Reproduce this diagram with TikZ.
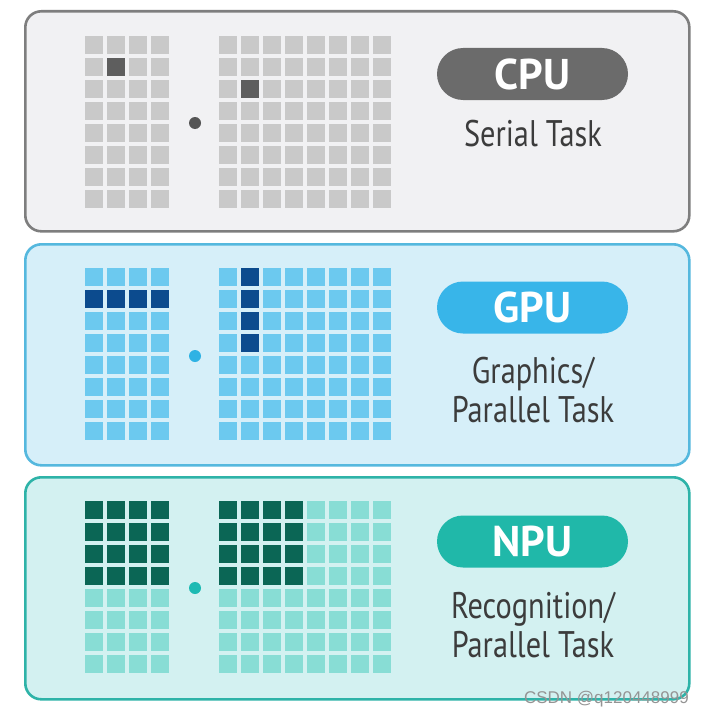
\documentclass[tikz,border=0pt]{standalone}
\usepackage{fontspec}
\setmainfont{PT Sans}[FakeStretch=0.82]
\newfontfamily\chipfont{PT Sans}
\newfontfamily\markfont{Liberation Sans}
\usetikzlibrary{positioning}

\definecolor{txtgrey}{HTML}{3C3C3C}
\definecolor{cpufill}{HTML}{F1F1F3}
\definecolor{cpuline}{HTML}{7E7E7E}
\definecolor{cpucell}{HTML}{C9C9C9}
\definecolor{cpudark}{HTML}{5E5E5E}
\definecolor{cpupill}{HTML}{6B6B6B}
\definecolor{cpudot}{HTML}{555555}
\definecolor{gpufill}{HTML}{D6EFF9}
\definecolor{gpuline}{HTML}{55B8DE}
\definecolor{gpucell}{HTML}{6CC9EF}
\definecolor{gpudark}{HTML}{0C4B8E}
\definecolor{gpupill}{HTML}{38B5E9}
\definecolor{gpudot}{HTML}{2FB2E4}
\definecolor{npufill}{HTML}{D3F1F1}
\definecolor{npuline}{HTML}{2EB3A8}
\definecolor{npucell}{HTML}{88DDD5}
\definecolor{npudark}{HTML}{0B6655}
\definecolor{npupill}{HTML}{20B8A9}
\definecolor{npudot}{HTML}{1DBAB3}

\begin{document}
\begin{tikzpicture}[
    x=1pt, y=-1pt,
    panel/.style={draw, line width=2.6pt, rounded corners=16pt,
        minimum width=664pt, minimum height=220pt,
        anchor=north west, inner sep=0pt},
    pill/.style={rounded corners=26pt, minimum width=191pt,
        minimum height=52pt, inner sep=0pt, text=white,
        font=\chipfont\fontsize{43}{43}\selectfont\bfseries},
    task/.style={text=txtgrey, anchor=base, inner sep=0pt,
        font=\fontsize{37}{39}\selectfont, align=center},
    dotmark/.style={circle, minimum size=12pt, inner sep=0pt},
    wmark/.style={text=black!42, inner sep=0pt,
        font=\markfont\fontsize{17}{17}\selectfont},
]
\useasboundingbox[fill=white] (0,0) rectangle (704,717);

% ============================ panels ====================================
\node[panel, fill=cpufill, draw=cpuline] (cpu) at (24,10) {};
\node[panel, fill=gpufill, draw=gpuline, minimum height=221pt] (gpu) at (24,243) {};
\node[panel, fill=npufill, draw=npuline, minimum height=222pt] (npu) at (24,476) {};

% ============================ CPU grids =================================
\foreach \r in {0,...,7} {
  \foreach \c in {0,...,3}
    \fill[cpucell] ({85+22*\c},{36+22*\r}) rectangle ++(18,18);
  \foreach \c in {0,...,7}
    \fill[cpucell] ({219+22*\c},{36+22*\r}) rectangle ++(18,18);
}
\fill[cpudark] (107,58) rectangle ++(18,18);
\fill[cpudark] (241,80) rectangle ++(18,18);
\node[dotmark, fill=cpudot] (cpudot) at (195,123) {};

% ============================ GPU grids =================================
\foreach \r in {0,...,7} {
  \foreach \c in {0,...,3}
    \fill[gpucell] ({85+22*\c},{268+22*\r}) rectangle ++(18,18);
  \foreach \c in {0,...,7}
    \fill[gpucell] ({219+22*\c},{268+22*\r}) rectangle ++(18,18);
}
\foreach \c in {0,...,3}
  \fill[gpudark] ({85+22*\c},290) rectangle ++(18,18);
\foreach \r in {0,...,3}
  \fill[gpudark] (241,{268+22*\r}) rectangle ++(18,18);
\node[dotmark, fill=gpudot] (gpudot) at (195,356) {};

% ============================ NPU grids =================================
\foreach \r in {0,...,7} {
  \foreach \c in {0,...,3}
    \fill[npucell] ({85+22*\c},{501+22*\r}) rectangle ++(18,18);
  \foreach \c in {0,...,7}
    \fill[npucell] ({219+22*\c},{501+22*\r}) rectangle ++(18,18);
}
\foreach \r in {0,...,3}
  \foreach \c in {0,...,3} {
    \fill[npudark] ({85+22*\c},{501+22*\r}) rectangle ++(18,18);
    \fill[npudark] ({219+22*\c},{501+22*\r}) rectangle ++(18,18);
  }
\node[dotmark, fill=npudot] (npudot) at (195,588) {};

% ============================ labels ====================================
\node[pill, fill=cpupill] (cpuchip) at (532.5,74) {CPU};
\node[task] (cputask) at (533,146) {Serial Task};

\node[pill, fill=gpupill] (gpuchip) at (532.5,307.5) {GPU};
\node[task] (gputask) at (533,422) {Graphics/\\Parallel Task};

\node[pill, fill=npupill] (npuchip) at (532.5,541.5) {NPU};
\node[task] (nputask) at (533,657) {Recognition/\\Parallel Task};

\node[wmark, anchor=east] (mark) at (689,699) {CSDN @q120448999};

\end{tikzpicture}
\end{document}
